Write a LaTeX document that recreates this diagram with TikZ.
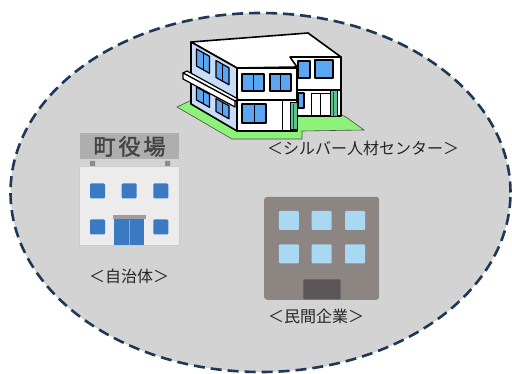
\documentclass[tikz,border=0pt]{standalone}
\usepackage{fontspec}
\usetikzlibrary{shapes.geometric}
\newfontfamily\jp{Noto Sans CJK JP}
\newfontfamily\jpbold[FakeBold=2]{Noto Sans CJK JP}
\definecolor{areagray}{HTML}{D4D3D4}
\definecolor{navy}{HTML}{1F3858}
\definecolor{labeltext}{HTML}{262626}
\definecolor{lawn}{HTML}{8CF27A}
\definecolor{sideblue}{HTML}{C6DCF7}
\definecolor{glass}{HTML}{5BA6F2}
\definecolor{pillar}{HTML}{5CC28E}
\definecolor{signgray}{HTML}{AEAEAE}
\definecolor{signink}{HTML}{454545}
\definecolor{hallwall}{HTML}{EDECED}
\definecolor{hallblue}{HTML}{3B79C2}
\definecolor{officewall}{HTML}{8C8581}
\definecolor{officeglass}{HTML}{A9D9F2}
\definecolor{officedoor}{HTML}{5B5758}
% a two-pane window on the slanted side face: x, y of top-left corner, height
\newcommand\sidewin[3]{%
  \filldraw[bluewin] (#1,#2) -- ++(13,7.3) -- ++(0,#3) -- ++(-13,-7.3) -- cycle;
  \draw[line width=0.9pt] ({#1+6.5},{#2+3.65}) -- ++(0,#3);}
% a two-pane window on a front face: corners x0, y0, x1, y1
\newcommand\frontwin[4]{%
  \filldraw[bluewin] (#1,#2) rectangle (#3,#4);
  \draw[line width=0.9pt] ({(#1+#3)/2},#2) -- ({(#1+#3)/2},#4);}
\begin{document}
\begin{tikzpicture}[x=1pt,y=-1pt,
  outline/.style={draw=black,line width=1.6pt,line join=round},
  bluewin/.style={fill=glass,draw=black,line width=1.2pt,line join=round},
  caption/.style={font=\jp\fontsize{16}{16}\selectfont,text=labeltext,inner sep=0pt},
  hallwin/.style={fill=hallblue,rounded corners=1.2pt,minimum width=15pt,minimum height=15pt,inner sep=0pt},
  officewin/.style={fill=officeglass,rounded corners=1pt,minimum width=20pt,minimum height=19pt,inner sep=0pt},
]
\useasboundingbox (0,0) rectangle (512,374);
\fill[white] (0,0) rectangle (512,374);

% the area, a dashed ellipse
\node (area) [ellipse, fill=areagray, draw=navy, line width=2.6pt, dash pattern=on 11pt off 6pt,
  minimum width=500pt, minimum height=359pt, inner sep=0pt] at (260.5,192.5) {};

% ---------------- silver human resources centre ----------------
% lawn
\filldraw[lawn, draw=black!70, line width=0.6pt] (177,107) -- (232,139) -- (302,139) -- (302,131)
  -- (364,130) -- (346,117) -- (320,105) -- (200,96) -- cycle;
% rear block front face
\filldraw[outline, fill=white] (290,57) rectangle (341,116);
\draw[line width=1.2pt] (297,90) -- (341,90);
\filldraw[bluewin] (298,61) rectangle (310,78);
\filldraw[bluewin] (315,60) rectangle (333,78);
\filldraw[bluewin] (298,93) rectangle (304,108);
\draw[line width=0.9pt] (311,116) -- (311,93) -- (330,93) -- (330,116);
\draw[line width=0.7pt] (320.5,94) -- (320.5,116);
% roof
\filldraw[outline, fill=white] (191,42) -- (308,33) -- (341,57) -- (290,57) -- (297,67) -- (237,68) -- cycle;
% side face of front block
\filldraw[outline, fill=sideblue] (191,42) -- (237,68) -- (237,131) -- (191,104) -- cycle;
% front face of front block
\filldraw[outline, fill=white] (237,68) rectangle (297,131);
\draw[line width=1.3pt] (237,100) -- (297,100);
\draw[line width=1pt] (282,101) -- (282,131);
% windows
\sidewin{196.5}{49}{17}
\sidewin{216}{60.5}{17}
\sidewin{196.5}{87}{13}
\sidewin{216}{98.5}{13}
\frontwin{242}{74}{264}{91}
\frontwin{270}{74}{291}{91}
\frontwin{242}{104}{266}{123}
% awning over the ground floor
\filldraw[outline, line width=1.2pt, fill=white] (183,73) -- (187,71) -- (238,99) -- (235,101) -- cycle;
\filldraw[outline, line width=1.2pt, fill=white] (183,73) -- (235,101) -- (235,107) -- (183,79) -- cycle;
% pillars
\filldraw[fill=pillar, draw=black, line width=1pt] (290,103) rectangle (297,130);
\filldraw[fill=pillar, draw=black, line width=1pt] (330,91) rectangle (337,117);
\draw[green!40!black, line width=0.8pt] (293.5,104) -- (293.5,129) (333.5,92) -- (333.5,116);

\node (silverlbl) [caption] at (363,148) {＜シルバー人材センター＞};

% ---------------- town hall ----------------
\node (sign) [fill=signgray, minimum width=99pt, minimum height=26pt, inner sep=0pt,
  font=\jpbold\fontsize{22}{22}\selectfont, text=signink] at (129.5,146.5)
  {町\hspace{3pt}役\hspace{3pt}場};
\fill[black!45] (90,161) rectangle (95,166) (165,161) rectangle (170,166);
\node (hall) [fill=hallwall, draw=black!20, line width=0.8pt, minimum width=100pt, minimum height=79pt,
  inner sep=0pt] at (129.3,206) {};
\foreach \x in {97.5,129.2,160.8} \node[hallwin] at (\x,191) {};
\foreach \x in {97.5,160.8} \node[hallwin] at (\x,227) {};
\fill[black!38] (112.5,215) rectangle (146,219.5);
\fill[hallblue] (114.3,219.5) rectangle (144,245);
\draw[black!35, line width=0.8pt] (129.2,220) -- (129.2,245);

\node (hallbl) [caption] at (129,276) {＜自治体＞};

% ---------------- private company ----------------
\node (office) [fill=officewall, rounded corners=3pt, minimum width=115pt, minimum height=103pt,
  inner sep=0pt] at (321.7,248.3) {};
\foreach \x in {288.8,321.7,355}
  \foreach \y in {220.5,253.8} \node[officewin] at (\x,\y) {};
\fill[officedoor, rounded corners=1pt] (303.3,279.3) rectangle (340.7,299.3);

\node (officelbl) [caption] at (316,316) {＜民間企業＞};
\end{tikzpicture}
\end{document}
